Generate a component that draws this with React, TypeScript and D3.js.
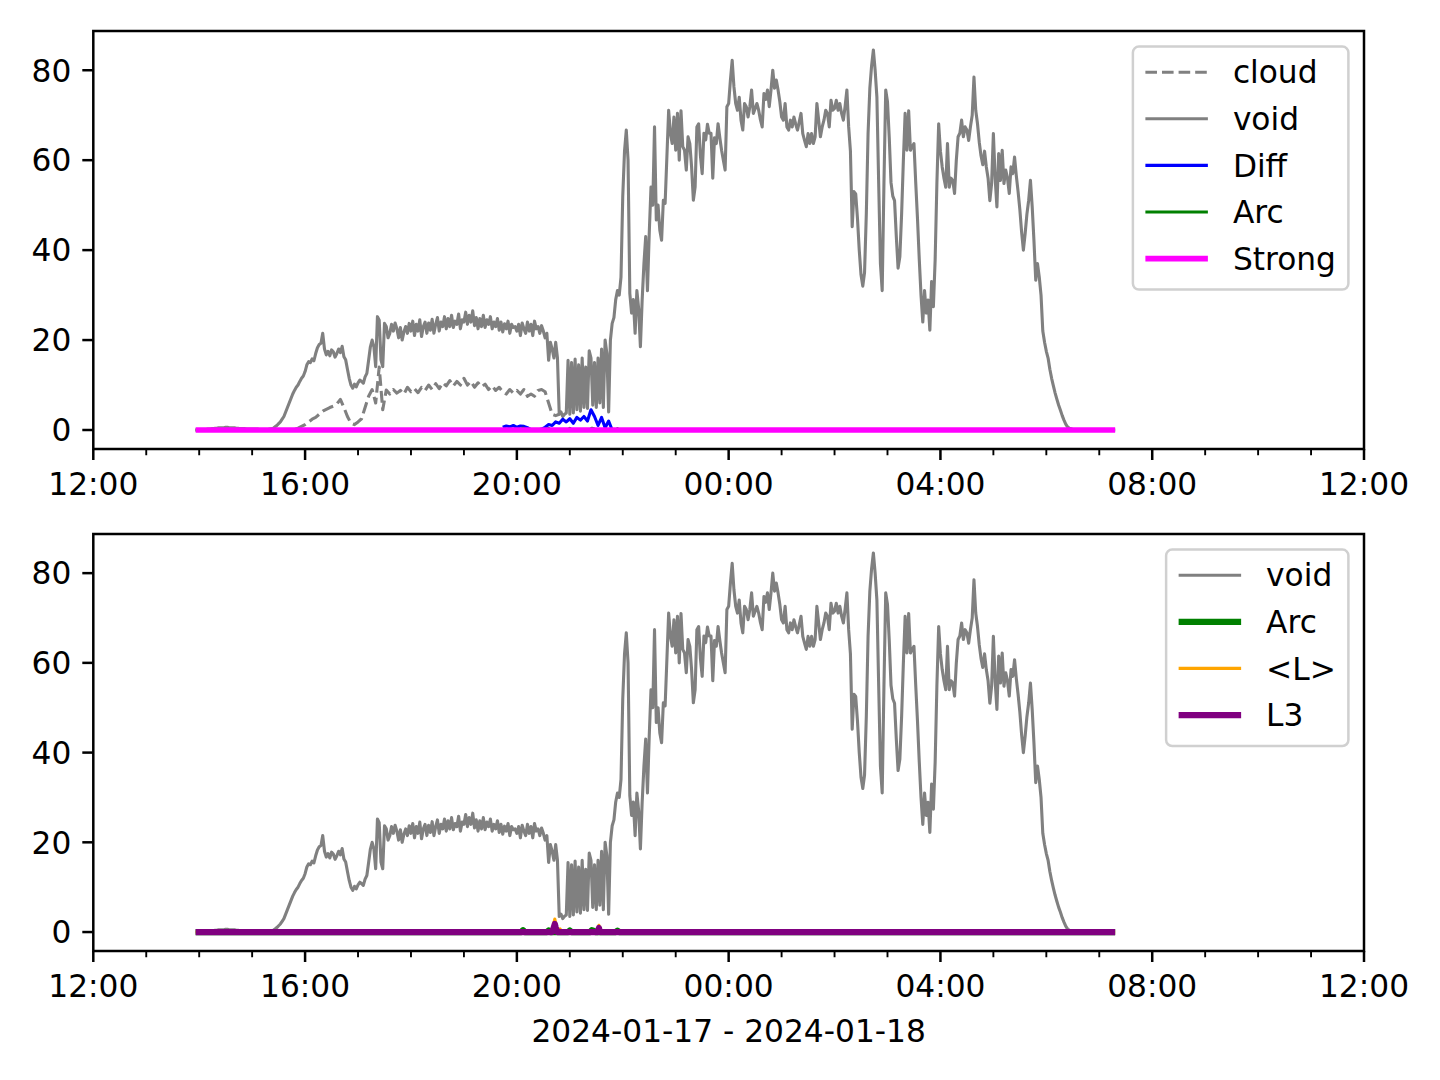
import React, { useMemo } from "react";
import * as d3 from "d3";

// ---------------- data ----------------
const DAY_START = "2024-01-17T12:00";
const DAY_END = "2024-01-18T12:00";

// void: one value every 2 minutes from 13:56
const VOID_START = "2024-01-17T13:56";
const VOID_STEP = 2;
const VOID_VALUES = [
  0, 0,
  // 14:00
  0, 0, 0, 0.1, 0.1, 0.2, 0.2, 0.3, 0.3, 0.4, 0.4, 0.5, 0.5, 0.5, 0.5,
  0.6, 0.6, 0.5, 0.5, 0.5, 0.5, 0.4, 0.4, 0.3, 0.3, 0.3, 0.3, 0.2, 0.2, 0.2,
  // 15:00
  0.2, 0.2, 0.2, 0.2, 0.1, 0.1, 0.1, 0.1, 0.1, 0.1, 0.2, 0.3, 0.4, 0.7, 1.0,
  1.4, 1.8, 2.4, 3.0, 4.0, 5.0, 6.0, 7.0, 8.0, 8.8, 9.5, 10.0, 10.8, 11.5, 12.0,
  // 16:00
  13.0, 14.5, 15.2, 15.0, 15.8, 15.4, 17.0, 18.3, 19.0, 19.3, 21.5, 18.0, 16.7, 17.5, 16.5,
  17.8, 17.4, 16.2, 17.0, 18.0, 17.2, 18.6, 16.3, 15.6, 13.5, 11.5, 10.0, 9.3, 10.2, 9.6,
  // 17:00
  10.5, 11.1, 10.8, 10.4, 11.8, 12.6, 15.5, 18.5, 20.0, 18.5, 14.1, 25.2, 24.4, 15.6, 14.1,
  23.7, 23.0, 20.5, 21.5, 23.5, 22.0, 23.8, 22.5, 20.5, 22.8, 20.0, 21.8, 23.0, 21.5, 23.7,
  // 18:00
  22.0, 24.2, 21.0, 23.5, 22.0, 24.5, 20.8, 23.0, 24.0, 21.5, 23.8, 22.2, 24.6, 21.5, 23.5,
  25.0, 22.0, 24.0, 23.0, 25.2, 22.5, 24.8, 23.0, 25.5, 22.8, 24.2, 23.5, 25.8, 22.5, 24.5,
  // 19:00
  24.0, 26.2, 23.5, 25.5, 24.0, 26.5, 23.2, 25.0, 22.5, 24.8, 23.0, 25.5, 22.8, 24.5, 23.5,
  25.2, 22.5, 24.0, 23.0, 24.8, 22.2, 24.0, 21.8, 23.6, 22.5, 24.2, 21.5, 23.5, 22.8, 23.0,
  // 20:00
  22.0, 23.5, 21.0, 23.8, 22.5, 21.5, 24.0, 22.0, 23.5, 21.0, 24.2, 22.5, 23.0, 21.5, 23.2,
  22.0, 20.5, 21.5, 15.5, 19.5, 18.0, 16.0, 19.5, 16.0, 3.5, 4.0, 3.0, 3.5, 3.8, 15.5,
  // 21:00
  3.5, 15.0, 3.8, 15.8, 4.5, 14.5, 4.2, 16.0, 5.0, 14.0, 4.8, 17.6, 16.0, 5.5, 15.0,
  5.0, 16.0, 6.0, 18.0, 5.0, 20.0, 17.0, 4.0, 20.0, 23.7, 25.0, 29.0, 31.0, 30.0, 34.0,
  // 22:00
  52.0, 62.0, 66.7, 60.0, 30.4, 26.0, 29.0, 21.5, 31.0, 27.0, 18.5, 29.0, 37.0, 43.0, 31.0,
  43.7, 54.0, 50.0, 67.4, 46.7, 50.0, 44.4, 42.2, 51.1, 50.4, 60.7, 71.1, 66.0, 63.7, 69.6,
  // 23:00
  62.2, 70.4, 60.0, 71.0, 63.0, 62.2, 57.8, 65.2, 63.7, 58.5, 51.1, 54.0, 67.4, 68.1, 61.0,
  57.0, 66.0, 64.5, 68.0, 66.0, 66.0, 56.0, 65.0, 63.7, 68.1, 65.0, 62.2, 60.0, 57.8, 71.9,
  // 00:00
  72.6, 77.8, 82.2, 76.3, 72.6, 71.1, 74.0, 68.9, 66.7, 72.6, 71.9, 69.6, 71.9, 75.6, 70.4,
  71.5, 72.6, 71.1, 69.0, 67.4, 74.8, 73.5, 75.6, 71.9, 75.6, 80.0, 76.0, 77.8, 75.6, 73.0,
  // 01:00
  69.6, 68.9, 72.6, 67.4, 66.7, 68.9, 67.4, 69.6, 68.0, 66.7, 68.5, 70.4, 65.9, 64.4, 63.0,
  65.9, 63.7, 65.9, 63.7, 65.2, 72.6, 68.9, 65.2, 67.4, 68.9, 71.1, 70.4, 67.4, 73.3, 71.1,
  // 02:00
  71.5, 73.3, 71.1, 72.6, 70.4, 68.9, 72.0, 75.6, 67.4, 62.0, 45.2, 53.0, 52.5, 47.0, 40.0,
  34.5, 32.0, 35.0, 48.0, 66.0, 76.0, 81.0, 84.5, 80.0, 74.0, 55.0, 37.0, 31.0, 55.0, 75.6,
  // 03:00
  73.0, 65.0, 55.0, 52.0, 51.0, 43.0, 36.0, 38.5, 48.0, 60.0, 70.4, 62.2, 71.0, 62.2, 63.0,
  63.7, 55.0, 47.0, 38.0, 30.0, 24.0, 31.0, 26.0, 28.9, 22.2, 33.0, 27.4, 37.8, 55.0, 68.1,
  // 04:00
  62.0, 58.5, 56.0, 54.0, 63.7, 54.0, 56.0, 55.5, 52.6, 60.0, 65.2, 66.0, 68.9, 65.2, 67.4,
  66.7, 64.4, 67.4, 70.0, 78.5, 71.1, 68.1, 64.0, 61.0, 59.0, 62.0, 58.5, 56.0, 51.0, 54.8,
  // 05:00
  65.9, 56.0, 49.6, 61.5, 55.5, 62.2, 54.8, 57.8, 56.0, 52.6, 58.5, 57.0, 60.7, 56.5, 53.0,
  49.0, 44.0, 40.0, 43.7, 48.0, 51.1, 55.5, 49.6, 42.0, 33.3, 37.0, 34.0, 30.0, 22.0, 19.5,
  // 06:00
  17.5, 16.0, 13.5, 11.5, 9.8, 8.2, 6.8, 5.5, 4.4, 3.2, 2.2, 1.3, 0.7, 0.4, 0.3,
  0.1, 0, 0, 0,
];

// cloud: one value every 4 minutes from 13:56
const CLOUD_START = "2024-01-17T13:56";
const CLOUD_STEP = 4;
const CLOUD_VALUES = [
  0,
  0, 0, 0, 0, 0, 0, 0, 0, 0, 0, 0, 0, 0, 0, 0,
  0, 0, 0, 0, 0, 0, 0, 0, 0, 0, 0, 0, 0.1, 0.4, 0.8,
  1.2, 1.8, 2.4, 2.8, 3.5, 4.2, 4.6, 5.0, 5.3, 5.8, 6.8, 5.0, 3.0, 1.5, 1.2,
  1.8, 2.5, 5.0, 7.5, 9.0, 6.0, 14.0, 4.5, 8.9, 8.0, 9.0, 8.2, 8.8, 8.0, 9.5,
  8.5, 9.2, 8.3, 9.5, 8.8, 10.0, 9.0, 10.3, 9.2, 10.5, 9.8, 11.0, 9.8, 10.8, 10.0,
  11.5, 10.0, 10.8, 9.5, 10.5, 9.6, 10.2, 9.0, 9.8, 8.8, 9.5, 8.5, 8.0, 9.0, 8.2,
  8.8, 8.0, 9.0, 7.5, 8.0, 7.5, 8.8, 9.0, 8.5, 6.0, 3.5, 3.2, 3.5,
];

// Diff: one value every 4 minutes from 19:44
const DIFF_START = "2024-01-17T19:44";
const DIFF_STEP = 4;
const DIFF_VALUES = [
  0.6, 0.9, 0.7, 1.0, 0.6, 0.9, 0.8, 0.5, 0.1, 0, 0, 0.2, 0.6, 1.2, 1.0, 1.8,
  1.5, 2.4, 1.8, 2.5, 1.5, 2.8, 2.2, 3.0, 2.0, 4.5, 3.0, 1.0, 2.8, 0.5, 2.0, 0,
];

const STRONG_TIMES = ["2024-01-17T13:56", "2024-01-18T07:18"];
const STRONG_VALUES = [0, 0];

const ARC_TIMES = [
  "2024-01-17T13:56", "2024-01-17T20:05", "2024-01-17T20:07", "2024-01-17T20:09",
  "2024-01-17T20:34", "2024-01-17T20:36", "2024-01-17T20:38",
  "2024-01-17T20:58", "2024-01-17T21:00", "2024-01-17T21:02",
  "2024-01-17T21:23", "2024-01-17T21:25", "2024-01-17T21:27", "2024-01-17T21:29",
  "2024-01-17T21:52", "2024-01-17T21:54", "2024-01-17T21:56", "2024-01-18T07:18",
];
const ARC_VALUES = [0, 0, 0.4, 0, 0, 0.35, 0, 0, 0.35, 0, 0, 0.4, 0.3, 0, 0, 0.3, 0, 0];

const LAVG_TIMES = [
  "2024-01-17T13:56", "2024-01-17T20:39", "2024-01-17T20:41", "2024-01-17T20:43",
  "2024-01-17T20:45", "2024-01-17T20:47", "2024-01-17T20:49", "2024-01-17T20:51",
  "2024-01-17T21:31", "2024-01-17T21:33", "2024-01-17T21:35", "2024-01-18T07:18",
];
const LAVG_VALUES = [0, 0, 1.2, 2.9, 0.8, 0.2, 0.7, 0, 0, 1.5, 0, 0];

const L3_TIMES = [
  "2024-01-17T13:56", "2024-01-17T20:40", "2024-01-17T20:42", "2024-01-17T20:43",
  "2024-01-17T20:44", "2024-01-17T20:46", "2024-01-17T21:32", "2024-01-17T21:33",
  "2024-01-17T21:34", "2024-01-18T07:18",
];
const L3_VALUES = [0, 0, 1.1, 1.8, 1.0, 0, 0, 0.9, 0, 0];

const Y_TICKS = [0, 20, 40, 60, 80];
const X_LABEL = "2024-01-17 - 2024-01-18";

// ---------------- helpers ----------------
const parse = d3.timeParse("%Y-%m-%dT%H:%M");
type Pt = { t: Date; v: number };

function stepSeries(start: string, step: number, values: number[]): Pt[] {
  const s = parse(start) as Date;
  return values.map((v, i) => ({ t: d3.timeMinute.offset(s, i * step), v }));
}
function pairSeries(times: string[], values: number[]): Pt[] {
  return times.map((t, i) => ({ t: parse(t) as Date, v: values[i] }));
}

const FONT = "DejaVu Sans";
const FS = 31.25;

function measure(text: string): number {
  try {
    const c = document.createElement("canvas");
    const ctx = c.getContext("2d");
    if (ctx) {
      ctx.font = `${FS}px "${FONT}"`;
      return ctx.measureText(text).width;
    }
  } catch (e) {}
  return text.length * FS * 0.6;
}

type Series = {
  label: string;
  data: Pt[];
  color: string;
  width: number;
  dash?: string;
};

const W = 1440;
const H = 1080;
const AX_LEFT = 93.3;
const AX_RIGHT = 1364;

function Legend({ items, right, top }: { items: Series[]; right: number; top: number }) {
  const pad = 12.5;
  const handle = 62.5;
  const textPad = 25;
  const maxText = Math.max(...items.map((d) => measure(d.label)));
  const w = pad + handle + textPad + maxText + pad;
  const firstRow = 25.6;
  const pitch = 46.6;
  const h = firstRow + (items.length - 1) * pitch + 31;
  const x0 = right - w;
  return (
    <g>
      <rect
        x={x0}
        y={top}
        width={w}
        height={h}
        rx={6}
        ry={6}
        fill="white"
        fillOpacity={0.8}
        stroke="#d0d0d0"
        strokeWidth={2.5}
      />
      {items.map((d, i) => {
        const cy = top + firstRow + i * pitch;
        return (
          <g key={d.label}>
            <line
              x1={x0 + pad}
              x2={x0 + pad + handle}
              y1={cy}
              y2={cy}
              stroke={d.color}
              strokeWidth={d.width}
              strokeDasharray={d.dash}
            />
            <text
              x={x0 + pad + handle + textPad}
              y={cy + 11.2}
              fontFamily={FONT}
              fontSize={FS}
              fill="black"
            >
              {d.label}
            </text>
          </g>
        );
      })}
    </g>
  );
}

function Panel({
  id,
  top,
  bottom,
  series,
  legendItems,
}: {
  id: string;
  top: number;
  bottom: number;
  series: Series[];
  legendItems: Series[];
}) {
  const x = d3
    .scaleTime()
    .domain([parse(DAY_START) as Date, parse(DAY_END) as Date])
    .range([AX_LEFT, AX_RIGHT]);
  const all = series.flatMap((s) => s.data.map((d) => d.v));
  const [mn, mx] = d3.extent(all) as [number, number];
  const m = (mx - mn) * 0.05;
  const y = d3.scaleLinear().domain([mn - m, mx + m]).range([bottom, top]);
  const line = d3
    .line<Pt>()
    .x((d) => x(d.t))
    .y((d) => y(d.v));

  const majors = x.ticks(d3.timeHour.every(4) as d3.TimeInterval);
  const minorsAll = x.ticks(d3.timeHour.every(1) as d3.TimeInterval);
  const majorSet = new Set(majors.map((d) => +d));
  const minors = minorsAll.filter((d) => !majorSet.has(+d));
  const fmt = d3.timeFormat("%H:%M");

  return (
    <g>
      <defs>
        <clipPath id={`clip-${id}`}>
          <rect x={AX_LEFT} y={top} width={AX_RIGHT - AX_LEFT} height={bottom - top} />
        </clipPath>
      </defs>
      <g clipPath={`url(#clip-${id})`}>
        {series.map((s) => (
          <path
            key={s.label}
            d={line(s.data) || ""}
            fill="none"
            stroke={s.color}
            strokeWidth={s.width}
            strokeDasharray={s.dash}
            strokeLinejoin="round"
            strokeLinecap="butt"
          />
        ))}
      </g>
      <rect
        x={AX_LEFT}
        y={top}
        width={AX_RIGHT - AX_LEFT}
        height={bottom - top}
        fill="none"
        stroke="black"
        strokeWidth={2.5}
      />
      {Y_TICKS.map((t) => (
        <g key={`y${t}`}>
          <line x1={AX_LEFT - 11} x2={AX_LEFT} y1={y(t)} y2={y(t)} stroke="black" strokeWidth={2.5} />
          <text
            x={AX_LEFT - 22}
            y={y(t) + 11.3}
            textAnchor="end"
            fontFamily={FONT}
            fontSize={FS}
            fill="black"
          >
            {t}
          </text>
        </g>
      ))}
      {majors.map((t) => (
        <g key={`x${+t}`}>
          <line x1={x(t)} x2={x(t)} y1={bottom} y2={bottom + 11} stroke="black" strokeWidth={2.5} />
          <text
            x={x(t)}
            y={bottom + 46}
            textAnchor="middle"
            fontFamily={FONT}
            fontSize={FS}
            fill="black"
          >
            {fmt(t)}
          </text>
        </g>
      ))}
      {minors.map((t) => (
        <line
          key={`m${+t}`}
          x1={x(t)}
          x2={x(t)}
          y1={bottom}
          y2={bottom + 6.25}
          stroke="black"
          strokeWidth={1.9}
        />
      ))}
      <Legend items={legendItems} right={AX_RIGHT - 15.6} top={top + 15.6} />
    </g>
  );
}

export default function App() {
  const voidData = useMemo(() => stepSeries(VOID_START, VOID_STEP, VOID_VALUES), []);
  const cloudData = useMemo(() => stepSeries(CLOUD_START, CLOUD_STEP, CLOUD_VALUES), []);
  const diffData = useMemo(() => stepSeries(DIFF_START, DIFF_STEP, DIFF_VALUES), []);
  const strongData = useMemo(() => pairSeries(STRONG_TIMES, STRONG_VALUES), []);
  const arcData = useMemo(() => pairSeries(ARC_TIMES, ARC_VALUES), []);
  const lavgData = useMemo(() => pairSeries(LAVG_TIMES, LAVG_VALUES), []);
  const l3Data = useMemo(() => pairSeries(L3_TIMES, L3_VALUES), []);

  const topSeries: Series[] = [
    { label: "cloud", data: cloudData, color: "#808080", width: 3.1, dash: "11.6 5" },
    { label: "void", data: voidData, color: "#808080", width: 3.1 },
    { label: "Diff", data: diffData, color: "#0000ff", width: 3.1 },
    { label: "Arc", data: arcData, color: "#008000", width: 3.1 },
    { label: "Strong", data: strongData, color: "#ff00ff", width: 5.6 },
  ];
  const bottomSeries: Series[] = [
    { label: "void", data: voidData, color: "#808080", width: 3.1 },
    { label: "Arc", data: arcData, color: "#008000", width: 6.25 },
    { label: "<L>", data: lavgData, color: "#ffa500", width: 3.1 },
    { label: "L3", data: l3Data, color: "#800080", width: 6.25 },
  ];

  return (
    <svg
      width={W}
      height={H}
      viewBox={`0 0 ${W} ${H}`}
      style={{ position: "absolute", left: 0, top: 0, background: "white" }}
    >
      <rect x={0} y={0} width={W} height={H} fill="white" />
      <Panel id="top" top={31} bottom={449} series={topSeries} legendItems={topSeries} />
      <Panel id="bottom" top={534} bottom={951} series={bottomSeries} legendItems={bottomSeries} />
      <text
        x={(AX_LEFT + AX_RIGHT) / 2}
        y={1041.5}
        textAnchor="middle"
        fontFamily={FONT}
        fontSize={FS}
        fill="black"
      >
        {X_LABEL}
      </text>
    </svg>
  );
}
